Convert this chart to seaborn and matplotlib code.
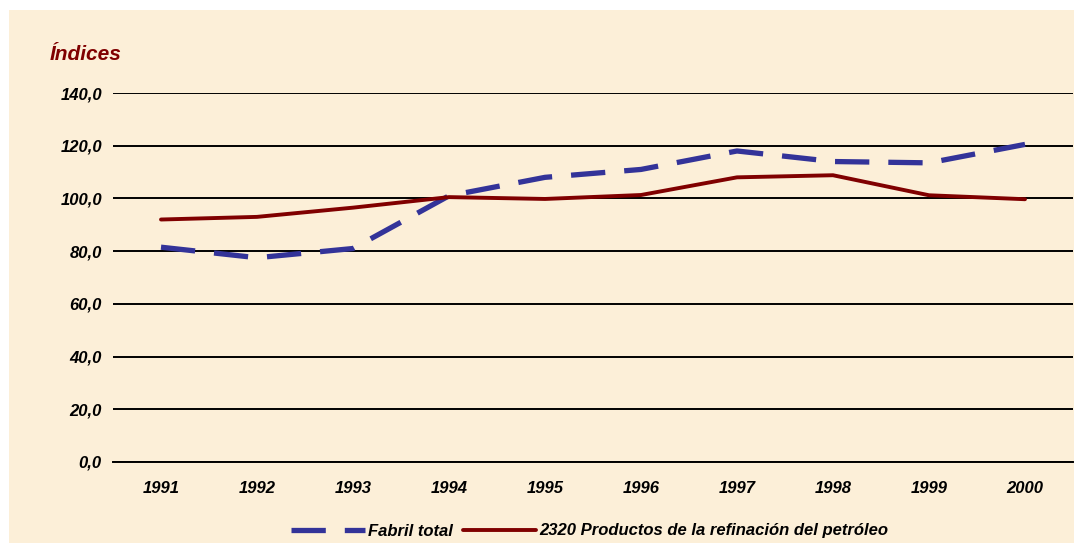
import matplotlib
matplotlib.use("Agg")
import matplotlib.pyplot as plt
import matplotlib.ticker as mticker
from matplotlib.lines import Line2D
from matplotlib.patches import Rectangle
import seaborn as sns
import pandas as pd

# Data
years = [1991, 1992, 1993, 1994, 1995, 1996, 1997, 1998, 1999, 2000]
fabril_total = [81.5, 77.5, 81.0, 101.0, 108.0, 111.0, 118.0, 114.0, 113.5, 120.5]
refinacion = [92.0, 93.0, 96.5, 100.5, 99.8, 101.3, 108.0, 108.8, 101.2, 99.7]
series_names = ["Fabril total", "2320 Productos de la refinación del petróleo"]
y_ticks = [0, 20, 40, 60, 80, 100, 120, 140]

BG = "#FCEFD8"
BLUE = "#333399"
RED = "#800000"

df = pd.DataFrame({
    "Año": years * 2,
    "Índice": fabril_total + refinacion,
    "Serie": [series_names[0]] * len(years) + [series_names[1]] * len(years),
})

sns.set_theme(style="white")
plt.rcParams["font.family"] = ["Liberation Sans", "DejaVu Sans"]
plt.rcParams["text.color"] = "black"

fig = plt.figure(figsize=(10.74, 5.43), dpi=100, facecolor="white")
# parchment background, leaving the thin white margin at left/top
fig.patches.append(Rectangle((9 / 1074, 0), 1, 1 - 10 / 543, transform=fig.transFigure,
                             facecolor=BG, edgecolor="none", zorder=-10))

ax = fig.add_axes([113 / 1074, 1 - 462 / 543, 960 / 1074, (462 - 93) / 543])
ax.set_facecolor("none")

sns.lineplot(
    data=df, x="Año", y="Índice", hue="Serie", style="Serie",
    palette={series_names[0]: BLUE, series_names[1]: RED},
    dashes={series_names[0]: (6.5, 3.6), series_names[1]: ""},
    size="Serie", sizes={series_names[0]: 3.8, series_names[1]: 2.8},
    legend=False, ax=ax, zorder=3,
)

ax.set_xlim(years[0] - 0.5, years[-1] + 0.5)
ax.set_ylim(0, 140)
ax.set_yticks(y_ticks)
ax.yaxis.set_major_formatter(mticker.FuncFormatter(lambda v, p: f"{v:.1f}".replace(".", ",")))
ax.set_xticks(years)
ax.set_xticks([y - 0.5 for y in years] + [years[-1] + 0.5], minor=True)
ax.tick_params(axis="x", which="major", length=0, pad=14)
ax.tick_params(axis="x", which="minor", length=5, width=1.2, color="black", direction="out")
ax.tick_params(axis="y", length=0, pad=8)
for lab in ax.get_xticklabels() + ax.get_yticklabels():
    lab.set_fontsize(12)
    lab.set_fontweight("bold")
    lab.set_fontstyle("italic")
    lab.set_color("black")

ax.grid(axis="y", color="black", linewidth=1.4)
ax.grid(axis="x", visible=False)
for side in ["left", "right", "top"]:
    ax.spines[side].set_visible(False)
ax.spines["bottom"].set_color("black")
ax.spines["bottom"].set_linewidth(1.4)
ax.set_xlabel("")
ax.set_ylabel("")

fig.text(50 / 1074, 1 - 55 / 543, "Índices", color=RED, fontsize=15,
         fontweight="bold", fontstyle="italic", va="center", ha="left")

handles = [
    Line2D([], [], color=BLUE, linewidth=3.8, linestyle=(0, (6.5, 3.6))),
    Line2D([], [], color=RED, linewidth=2.8),
]
leg = fig.legend(handles, series_names, loc="center", bbox_to_anchor=(590 / 1074, 1 - 531 / 543),
                 ncol=2, frameon=False, handlelength=4.4, handletextpad=0.2, columnspacing=0.6,
                 prop={"size": 12, "weight": "bold", "style": "italic"})
for t in leg.get_texts():
    t.set_color("black")

fig.savefig("out.png", dpi=100, facecolor=fig.get_facecolor())
